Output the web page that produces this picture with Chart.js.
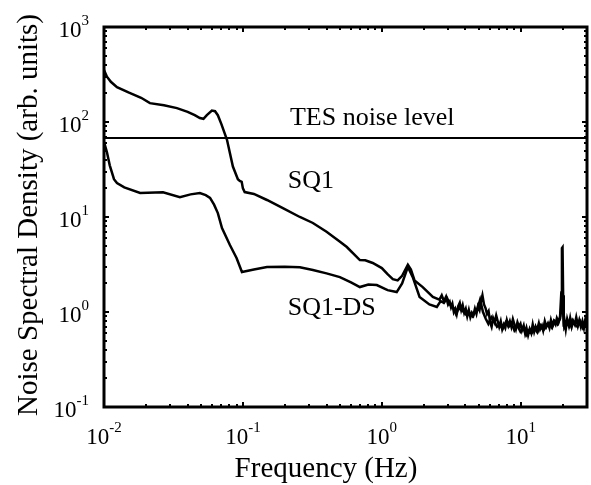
<!DOCTYPE html>
<html>
<head>
<meta charset="utf-8">
<script src="https://cdn.jsdelivr.net/npm/chart.js@4.4.1/dist/chart.umd.min.js"></script>
<style>
  html, body { margin: 0; padding: 0; background: #fff; }
  canvas { display: block; }
</style>
</head>
<body>
<canvas id="psd" width="591" height="485"></canvas>
<script>
// SQ1 (no double sampling) spectrum
const sq1Freq = [0.01, 0.0105, 0.0112, 0.0124, 0.015, 0.0185, 0.0214, 0.027, 0.0335, 0.04, 0.045, 0.049, 0.052, 0.055, 0.0598, 0.063, 0.066, 0.07, 0.0768, 0.0847, 0.092, 0.095, 0.098, 0.1, 0.103, 0.12, 0.149, 0.194, 0.257, 0.319, 0.4, 0.5, 0.56, 0.695, 0.76, 0.86, 1.0, 1.1, 1.2, 1.3, 1.4, 1.54, 1.62, 1.72, 1.97, 2.33, 2.6, 2.7, 2.8, 2.9, 3.0, 3.08,
  3.15, 3.22, 3.3, 3.38, 3.46, 3.55, 3.64, 3.73, 3.82, 3.92, 4.02, 4.12, 4.23, 4.34, 4.45, 4.56, 4.68, 4.8, 4.92, 5.05, 5.18, 5.3, 5.44, 5.58, 5.72, 5.87, 6.02, 6.17, 6.33, 6.49, 6.66, 6.83, 7.0, 7.18, 7.36, 7.55, 7.74, 7.94, 8.14, 8.35, 8.56, 8.78, 9.0, 9.23, 9.47, 9.71, 9.96, 10.2, 10.5, 10.75, 11.0, 11.3, 11.6, 11.9, 12.2, 12.5, 12.8, 13.1, 13.5, 13.8, 14.2, 14.5, 14.9, 15.3, 15.7, 16.1, 16.5, 16.9, 17.3, 17.8, 18.2, 18.7, 19.2, 19.6, 19.8, 20.0, 20.2, 20.4, 20.7, 21.1, 21.6, 22.2, 22.7, 23.3, 23.9, 24.5, 25.1, 25.8, 26.4, 27.1, 27.8, 28.5, 29.2, 30];
const sq1Val = [352, 300, 265, 233, 205, 180, 158, 150, 140, 128, 118, 110, 108, 118, 132, 130, 118, 95, 65, 34, 25, 24, 23.5, 20, 18.3, 17.5, 15.1, 12.4, 10, 8.65, 7, 5.5, 4.83, 3.52, 3.5, 3.28, 2.9, 2.5, 2.22, 2.15, 2.4, 3.15, 2.8, 2.15, 1.83, 1.44, 1.35, 1.5, 1.3, 1.45, 1.2, 1.28,
  1.12, 1.22, 1.0, 1.08, 0.95, 1.15, 1.25, 1.05, 1.18, 0.98, 1.08, 0.9, 1.05, 0.88, 0.98, 0.92, 1.08, 0.96, 1.15, 1.05, 1.3, 1.5, 1.2, 1.1, 0.95, 1.02, 0.78, 0.7, 0.86, 0.78, 0.92, 0.8, 0.7, 0.8, 0.66, 0.74, 0.68, 0.82, 0.72, 0.8, 0.7, 0.84, 0.74, 0.66, 0.78, 0.7, 0.75, 0.64, 0.72, 0.6, 0.68, 0.57, 0.66, 0.6, 0.74, 0.62, 0.7, 0.64, 0.76, 0.66, 0.72, 0.64, 0.8, 0.7, 0.76, 0.68, 0.82, 0.72, 0.8, 0.74, 0.86, 0.78, 0.9, 1.6, 4.7, 4.8, 1.5, 0.7, 0.8, 0.66, 0.84, 0.72, 0.86, 0.7, 0.8, 0.74, 0.88, 0.72, 0.82, 0.7, 0.8, 0.68, 0.84, 0.76];

// SQ1-DS (double sampling) spectrum
const dsFreq = [0.01, 0.0105, 0.011, 0.0118, 0.0124, 0.014, 0.0182, 0.0266, 0.0352, 0.042, 0.049, 0.054, 0.058, 0.062, 0.066, 0.0707, 0.0806, 0.09, 0.0984, 0.12, 0.149, 0.2, 0.257, 0.319, 0.4, 0.499, 0.6, 0.695, 0.8, 0.92, 1.1, 1.28, 1.4, 1.54, 1.67, 1.87, 2.2, 2.49, 2.65, 2.8, 2.95,
  3.1, 3.28, 3.42, 3.58, 3.72, 3.9, 4.1, 4.3, 4.5, 4.7, 4.9, 5.1, 5.35, 5.6, 5.85, 6.15, 6.45, 6.75, 7.05, 7.4, 7.8, 8.2, 8.6, 9.0, 9.45, 9.95, 10.45, 10.95, 11.45, 12.0, 12.6, 13.2, 13.85, 14.55, 15.25, 16.0, 16.8, 17.6, 18.4, 19.2, 19.9, 20.6, 21.6, 22.5, 23.5, 24.5, 25.6, 26.8, 28.0, 29.3, 30];
const dsVal = [62, 48, 35, 25, 22.8, 20.5, 17.9, 18.2, 16.2, 17.3, 17.9, 17, 15.9, 13.5, 11, 7.66, 5.07, 3.7, 2.64, 2.8, 2.98, 3.0, 2.95, 2.77, 2.55, 2.33, 2.05, 1.83, 1.95, 1.92, 1.7, 1.62, 2.0, 2.98, 2.33, 1.44, 1.2, 1.13, 1.3, 1.25, 1.4,
  1.2, 1.1, 0.95, 1.1, 1.05, 1.0, 0.92, 0.97, 0.9, 1.0, 1.1, 1.35, 1.0, 0.85, 0.75, 0.88, 0.8, 0.7, 0.74, 0.66, 0.78, 0.7, 0.76, 0.64, 0.72, 0.62, 0.68, 0.57, 0.64, 0.6, 0.67, 0.61, 0.72, 0.64, 0.7, 0.76, 0.68, 0.8, 0.74, 0.85, 1.3, 0.68, 0.76, 0.7, 0.82, 0.74, 0.7, 0.8, 0.68, 0.76, 0.72];

const tesLevel = 68;
const xRange = [0.01, 30];
const yRange = [0.1, 1000];
const xTicks = [0.01, 0.1, 1, 10];
const xTickExp = ['-2', '-1', '0', '1'];
const yTicks = [0.1, 1, 10, 100, 1000];
const yTickExp = ['-1', '0', '1', '2', '3'];

// in-plot text labels, anchored in data coordinates (left/baseline)
const notes = [
  { text: 'TES noise level', f: 0.218, v: 93 },
  { text: 'SQ1', f: 0.21, v: 20.2 },
  { text: 'SQ1-DS', f: 0.21, v: 0.93 }
];

const toPts = (fs, vs) => fs.map((f, i) => ({ x: f, y: vs[i] }));

const SERIF = '"Liberation Serif", "Times New Roman", serif';

const axesPlugin = {
  id: 'matlabAxes',
  afterDraw(chart) {
    const { ctx, chartArea: a, scales: { x, y } } = chart;
    ctx.save();
    ctx.strokeStyle = '#000';
    ctx.fillStyle = '#000';
    ctx.setLineDash([]);

    // ticks, inward on all four sides (small, like the scan)
    ctx.lineWidth = 2;
    const maj = 5, min = 3;
    for (let d = -2; d <= 1; d++) {
      for (let m = 1; m <= 9; m++) {
        const v = m * Math.pow(10, d);
        if (v < xRange[0] || v > xRange[1]) continue;
        const px = Math.round(x.getPixelForValue(v));
        const len = m === 1 ? maj : min;
        ctx.beginPath();
        ctx.moveTo(px, a.bottom);
        ctx.lineTo(px, a.bottom - len);
        ctx.stroke();
        ctx.beginPath();
        ctx.moveTo(px, a.top);
        ctx.lineTo(px, a.top + len);
        ctx.stroke();
      }
    }
    for (let d = -1; d <= 2; d++) {
      for (let m = 1; m <= 10; m++) {
        const v = m * Math.pow(10, d);
        const py = Math.round(y.getPixelForValue(v));
        const len = (m === 1 || m === 10) ? maj : min;
        ctx.beginPath();
        ctx.moveTo(a.left, py);
        ctx.lineTo(a.left + len, py);
        ctx.stroke();
        ctx.beginPath();
        ctx.moveTo(a.right, py);
        ctx.lineTo(a.right - len, py);
        ctx.stroke();
      }
    }

    // frame
    ctx.lineWidth = 3;
    ctx.strokeRect(a.left, a.top, a.right - a.left, a.bottom - a.top);

    // tick labels 10^n
    const big = '23px ' + SERIF, small = '15px ' + SERIF;
    ctx.textBaseline = 'alphabetic';
    xTicks.forEach((v, i) => {
      const px = x.getPixelForValue(v);
      ctx.font = big; const w1 = ctx.measureText('10').width;
      ctx.font = small; const w2 = ctx.measureText(xTickExp[i]).width;
      const left = px - (w1 + w2) / 2;
      ctx.textAlign = 'left';
      ctx.font = big; ctx.fillText('10', left, a.bottom + 37);
      ctx.font = small; ctx.fillText(xTickExp[i], left + w1, a.bottom + 25);
    });
    yTicks.forEach((v, i) => {
      const py = y.getPixelForValue(v);
      ctx.font = small; const w2 = ctx.measureText(yTickExp[i]).width;
      const right = a.left - 15;
      ctx.textAlign = 'right';
      ctx.fillText(yTickExp[i], right, py - 2);
      ctx.font = big; ctx.fillText('10', right - w2, py + 10);
    });

    // axis titles
    ctx.font = '29px ' + SERIF;
    ctx.textAlign = 'center';
    ctx.fillText('Frequency (Hz)', 326, 477);
    ctx.save();
    ctx.translate(37, 215);
    ctx.rotate(-Math.PI / 2);
    ctx.fillText('Noise Spectral Density (arb. units)', 0, 0);
    ctx.restore();

    // in-plot labels
    ctx.font = '26px ' + SERIF;
    ctx.textAlign = 'left';
    notes.forEach(n => {
      ctx.fillText(n.text, x.getPixelForValue(n.f), y.getPixelForValue(n.v));
    });
    ctx.restore();
  }
};

new Chart(document.getElementById('psd'), {
  type: 'line',
  data: {
    datasets: [
      { label: 'SQ1', data: toPts(sq1Freq, sq1Val), borderColor: '#000', borderWidth: 2.5, pointRadius: 0, tension: 0 },
      { label: 'SQ1-DS', data: toPts(dsFreq, dsVal), borderColor: '#000', borderWidth: 2.5, pointRadius: 0, tension: 0 },
      { label: 'TES noise level', data: [{ x: xRange[0], y: tesLevel }, { x: xRange[1], y: tesLevel }], borderColor: '#000', borderWidth: 2, pointRadius: 0 }
    ]
  },
  options: {
    responsive: false,
    animation: false,
    layout: { padding: { left: 104, top: 27, right: 4, bottom: 78 } },
    scales: {
      x: { type: 'logarithmic', min: xRange[0], max: xRange[1], display: false },
      y: { type: 'logarithmic', min: yRange[0], max: yRange[1], display: false }
    },
    plugins: { legend: { display: false }, tooltip: { enabled: false } }
  },
  plugins: [axesPlugin]
});
</script>
</body>
</html>
